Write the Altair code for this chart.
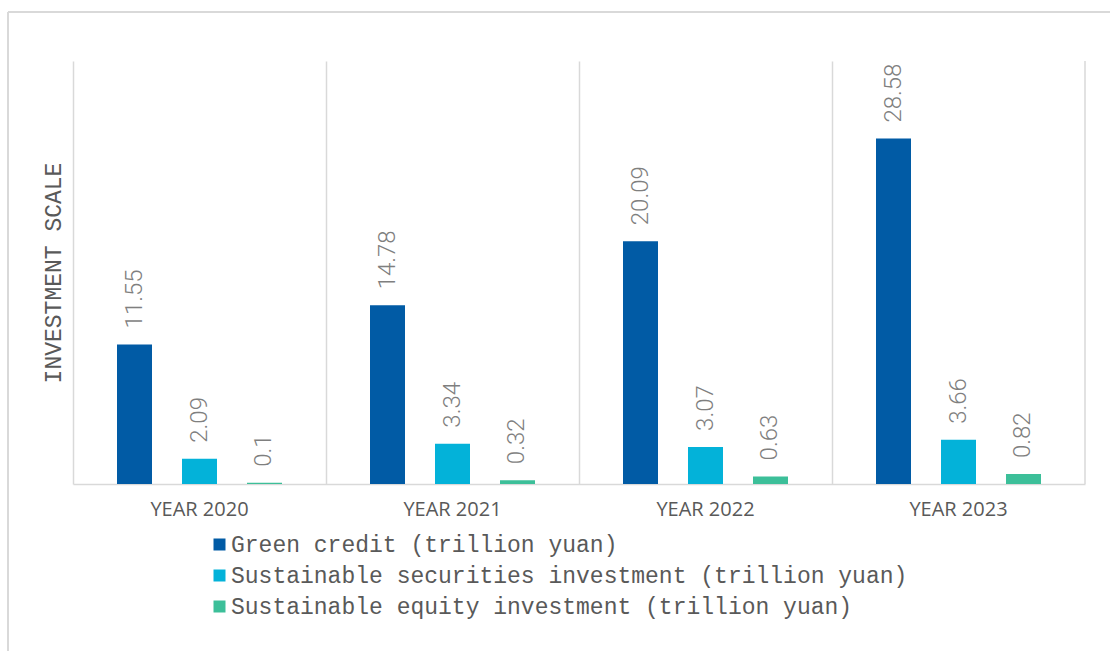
import altair as alt
import pandas as pd

years = ["YEAR 2020", "YEAR 2021", "YEAR 2022", "YEAR 2023"]
series = [
    "Green credit (trillion yuan)",
    "Sustainable securities investment (trillion yuan)",
    "Sustainable equity investment (trillion yuan)",
]
green_credit = [11.55, 14.78, 20.09, 28.58]
securities = [2.09, 3.34, 3.07, 3.66]
equity = [0.1, 0.32, 0.63, 0.82]
colors = ["#015BA5", "#03B2D9", "#3CBF99"]

rows = []
for i, y in enumerate(years):
    for s, vals in zip(series, [green_credit, securities, equity]):
        rows.append({"year": y, "series": s, "value": vals[i], "label": f"{vals[i]:g}"})
df = pd.DataFrame(rows)

W, H = 1012, 423

x_enc = alt.X(
    "year:N",
    sort=years,
    title=None,
    scale=alt.Scale(paddingInner=0, paddingOuter=0),
    axis=alt.Axis(
        grid=True,
        bandPosition=0,
        gridColor="#d9d9d9",
        gridWidth=1.5,
        ticks=False,
        domainColor="#d9d9d9",
        domainWidth=1.5,
        labelFont="Open Sans",
        labelFontSize=20,
        labelColor="#595959",
        labelPadding=15,
        labelAngle=0,
    ),
)
xoff = alt.XOffset(
    "series:N",
    sort=series,
    scale=alt.Scale(paddingInner=0.4615, paddingOuter=0.677),
)
y_enc = alt.Y(
    "value:Q",
    scale=alt.Scale(domain=[0, 35], nice=False),
    axis=alt.Axis(
        labels=False,
        ticks=False,
        domain=False,
        grid=False,
        title="INVESTMENT SCALE",
        titleFont="Liberation Mono",
        titleFontSize=23,
        titleFontWeight="normal",
        titleColor="#595959",
        titleX=-20,
        titleY=H / 2,
        titleAlign="center",
        titleBaseline="middle",
    ),
)

base = alt.Chart(df)

bars = base.mark_bar().encode(
    x=x_enc,
    xOffset=xoff,
    y=y_enc,
    color=alt.Color(
        "series:N",
        sort=series,
        scale=alt.Scale(domain=series, range=colors),
        legend=alt.Legend(
            title=None,
            orient="none",
            legendX=135,
            legendY=472,
            direction="vertical",
            symbolType="square",
            symbolSize=144,
            symbolStrokeWidth=0,
            labelFont="Liberation Mono",
            labelFontSize=23,
            labelColor="#595959",
            labelOffset=0,
            rowPadding=7,
            labelLimit=1000,
        ),
    ),
)

labels = base.mark_text(
    angle=270,
    align="left",
    baseline="middle",
    dx=16,
    font="Roboto",
    fontSize=24,
    fontWeight=300,
    color="#7f7f7f",
).encode(
    x=alt.X("year:N", sort=years),
    xOffset=alt.XOffset("series:N", sort=series),
    y="value:Q",
    text="label:N",
)

one = alt.Data(values=[{"a": 1}])
right_line = alt.Chart(one).mark_rule(color="#d9d9d9", strokeWidth=1.5).encode(
    x=alt.value(W), y=alt.value(0), y2=alt.value(H)
)
border_left = alt.Chart(one).mark_rule(color="#d9d9d9", strokeWidth=2).encode(
    x=alt.value(-65), y=alt.value(-49), y2=alt.value(620)
)
border_top = alt.Chart(one).mark_rule(color="#d9d9d9", strokeWidth=2).encode(
    x=alt.value(-65), x2=alt.value(1100), y=alt.value(-49)
)

chart = (
    alt.layer(bars, labels, right_line, border_left, border_top)
    .properties(
        width=W,
        height=H,
        padding={"left": 73, "top": 61, "right": 25, "bottom": 167},
        autosize=alt.AutoSizeParams(type="none"),
        background="white",
    )
    .configure_view(stroke=None)
)

chart.save("out.html", embed_options={"renderer": "svg", "actions": False})
